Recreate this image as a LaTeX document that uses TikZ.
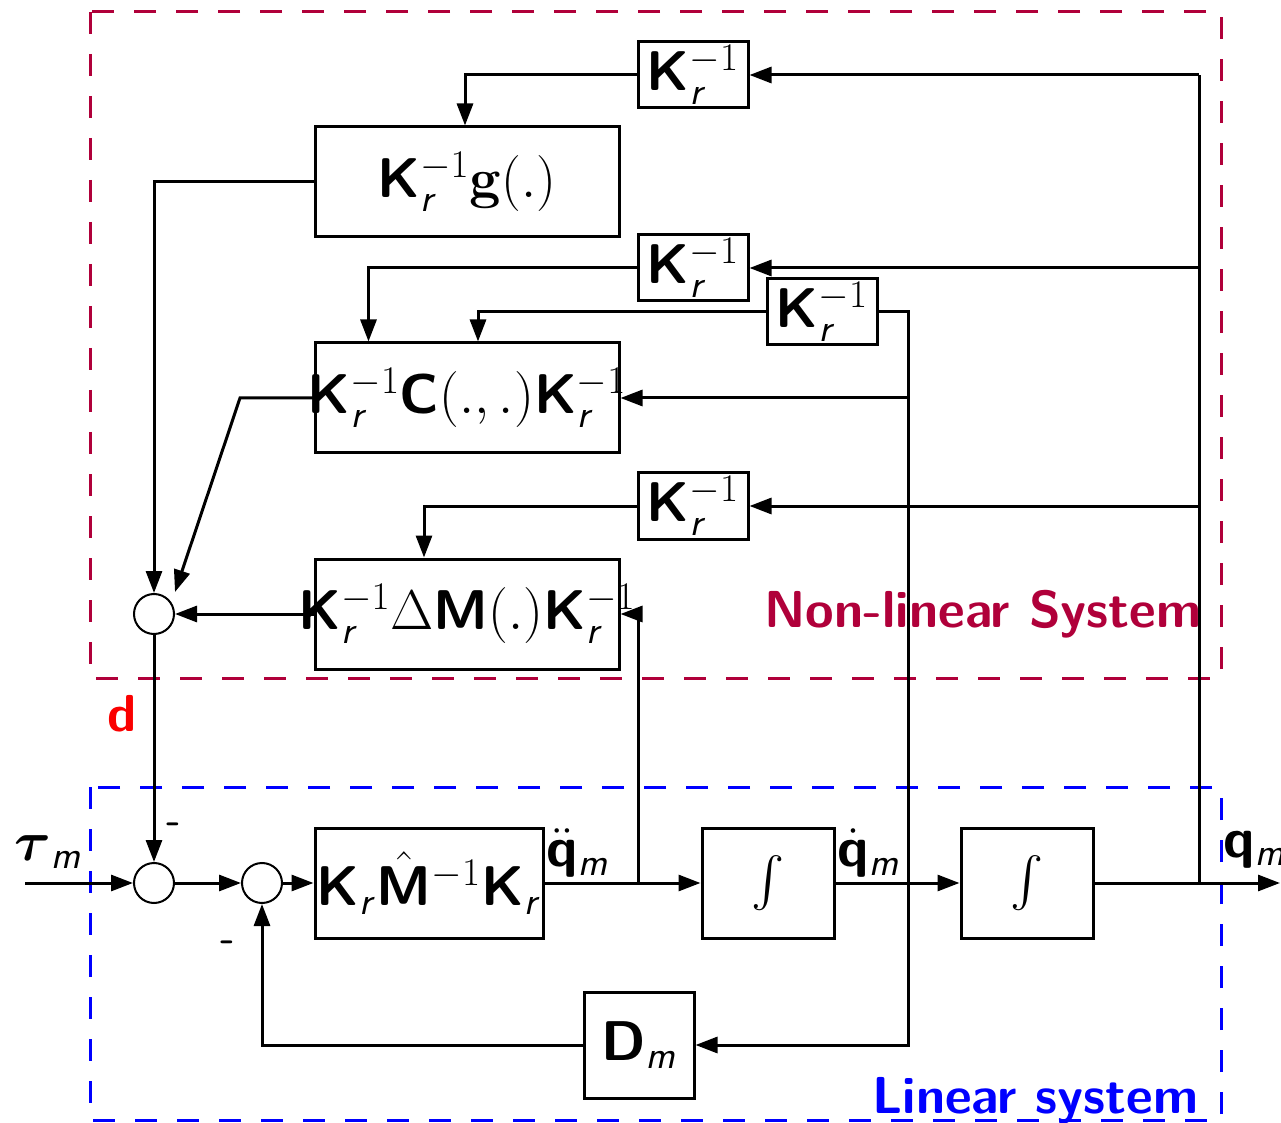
\RequirePackage{fix-cm}
\documentclass[tikz,border=0pt]{standalone}
\usepackage{amsmath}
\usetikzlibrary{arrows.meta,calc}
\definecolor{nlred}{RGB}{176,0,58}
\definecolor{lblue}{RGB}{0,0,255}
\definecolor{dred}{RGB}{250,0,0}
\DeclareMathAlphabet{\mathsfb}{OT1}{cmss}{bx}{n}
\DeclareMathAlphabet{\mathsfi}{OT1}{cmss}{m}{sl}
\newcommand\bK{\mathsfb{K}}
\newcommand\KrI{\bK_{\mathsfi{r}}^{-1}}
\begin{document}
\begin{tikzpicture}[x=0.5pt,y=-0.5pt,line width=1.5pt,
  blk/.style={draw,line width=1.5pt,inner sep=0pt,fill=white,font=\fontsize{28}{34}\selectfont},
  sumc/.style={draw,circle,line width=1pt,minimum size=20pt,inner sep=0pt,fill=white},
  arr/.style={-{Triangle[length=11pt,width=8pt]}},
  lbl/.style={inner sep=0pt,font=\fontsize{28}{34}\selectfont},
  frame/.style={line width=1.5pt,dash pattern=on 11pt off 10pt}]
\useasboundingbox (0,0) rectangle (1281,1123);
% frames
\draw[frame,nlred] (90,12) rectangle (1221,678);
\draw[frame,lblue] (90,787) rectangle (1221,1120);
\node[lbl,font=\fontsize{26}{30}\selectfont\sffamily\bfseries,text=nlred,anchor=base east] (nltxt) at (1203,627) {Non-linear System};
\node[lbl,font=\fontsize{26}{30}\selectfont\sffamily\bfseries,text=lblue,anchor=base east] (ltxt) at (1200,1113) {Linear system};
% blocks
\node[blk,minimum width=55pt,minimum height=33pt] (k1) at (693,75) {$\KrI$};
\node[blk,minimum width=152pt,minimum height=55pt] (g) at (467,182) {$\KrI\mathbf{g}(.)$};
\node[blk,minimum width=55pt,minimum height=33pt] (k2) at (693,268) {$\KrI$};
\node[blk,minimum width=55pt,minimum height=33pt] (k3) at (822,312) {$\KrI$};
\node[blk,minimum width=152pt,minimum height=55pt] (c) at (467,398) {};
\node[blk,minimum width=55pt,minimum height=33pt] (k4) at (693,506) {$\KrI$};
\node[blk,minimum width=152pt,minimum height=55pt] (dmb) at (467,614) {};
\node[blk,minimum width=114pt,minimum height=55pt] (kmk) at (429,883) {};
\node[blk,minimum width=66pt,minimum height=55pt] (int1) at (768,883) {$\int$};
\node[blk,minimum width=66pt,minimum height=55pt] (int2) at (1027,883) {$\int$};
\node[blk,minimum width=55pt,minimum height=53pt] (dm) at (639,1045) {$\mathsfb{D}_{\mathsfi{m}}$};
% summing junctions
\node[sumc] (s1) at (154,614) {};
\node[sumc] (s2) at (154,883) {};
\node[sumc] (s3) at (262,883) {};
% coordinates
\coordinate (jq) at (1199,883);
\coordinate (jqt) at (1199,75);
\coordinate (out) at (1280,883);
\coordinate (jdd) at (638,883);
\coordinate (jd) at (908,883);
\coordinate (in) at (25,883);
\coordinate (cbend) at (240,398);
% connectors
\draw[arr] (int2.east) -- (out);
\draw (jq) -- (jqt);
\draw[arr] (jqt) -- (k1.east);
\draw[arr] (jq|-k2.east) -- (k2.east);
\draw[arr] (jq|-k4.east) -- (k4.east);
\draw[arr] (k1.west) -| ($(g.north)+(-2,0)$);
\draw[arr] (g.west) -| (s1.north);
\draw[arr] (k2.west) -| ($(c.north west)+(55,0)$);
\draw[arr] (k3.west) -| ($(c.north)+(11,0)$);
\draw[arr] (k3.east) -| (jd|-dm.east) -- (dm.east);
\draw[arr] (jd|-c.east) -- (c.east);
\draw[arr] (c.west) -- (cbend) -- ($(s1.north)+(21,-1)$);
\draw[arr] (k4.west) -| ($(dmb.north)+(-43,0)$);
\draw[arr] (jdd) |- (dmb.east);
\draw[arr] (dmb.west) -- (s1.east);
\draw[arr] (s1.south) -- (s2.north);
\draw[arr] (in) -- (s2.west);
\draw[arr] (s2.east) -- (s3.west);
\draw[arr] (s3.east) -- (kmk.west);
\draw[arr] (kmk.east) -- (int1.west);
\draw[arr] (int1.east) -- (int2.west);
\draw[arr] (dm.west) -| (s3.south);
% texts drawn over box borders
\node[lbl] (ctxt) at (467,398) {$\KrI\mathsfb{C}(.,.)\KrI$};
\node[lbl] (dmtxt) at (467,614) {$\KrI\Delta\mathsfb{M}(.)\KrI$};
\node[lbl] (kmktxt) at (429,883) {$\bK_{\mathsfi{r}}\hat{\mathsfb{M}}^{-1}\bK_{\mathsfi{r}}$};
% labels
\node[lbl] (tau) at (48,852) {$\boldsymbol{\tau}_{\mathsfi{m}}$};
\node[lbl,text=dred,font=\fontsize{26}{30}\selectfont\sffamily\bfseries] (d) at (122,714) {d};
\node[lbl,font=\fontsize{20}{24}\selectfont\sffamily\bfseries] (m1) at (174,828) {-};
\node[lbl,font=\fontsize{20}{24}\selectfont\sffamily\bfseries] (m2) at (228,946) {-};
\node[lbl,anchor=west] (qdd) at (545,853) {$\ddot{\mathsfb{q}}_{\mathsfi{m}}$};
\node[lbl,anchor=west] (qd) at (836,853) {$\dot{\mathsfb{q}}_{\mathsfi{m}}$};
\node[lbl,anchor=west] (q) at (1222,850) {$\mathsfb{q}_{\mathsfi{m}}$};
\end{tikzpicture}
\end{document}
